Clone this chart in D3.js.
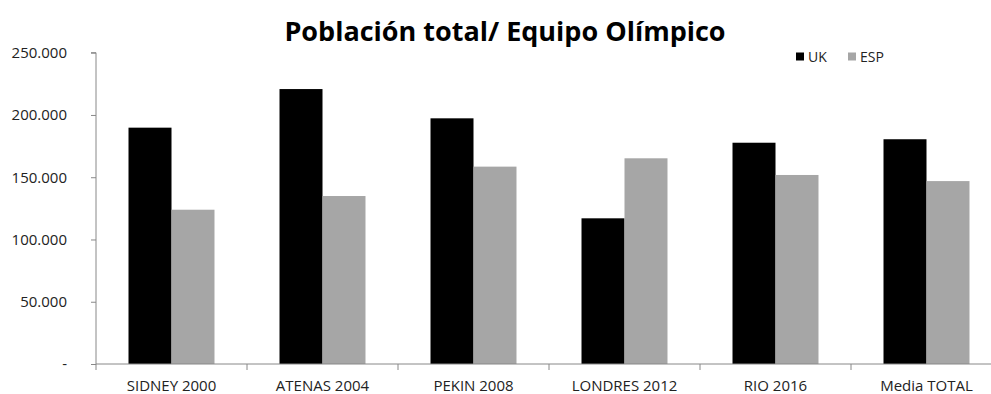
<!DOCTYPE html>
<html>
<head>
<meta charset="utf-8">
<script src="https://cdn.jsdelivr.net/npm/d3@7"></script>
<style>
  body { margin: 0; background: #fff; }
  text { font-family: "Open Sans", "Liberation Sans", sans-serif; fill: #222; }
</style>
</head>
<body>
<div id="chart"></div>
<script>
// ── data
const categories = ['SIDNEY 2000', 'ATENAS 2004', 'PEKIN 2008', 'LONDRES 2012', 'RIO 2016', 'Media TOTAL'];
const seriesNames = ['UK', 'ESP'];
const ukValues  = [189800, 220800, 197300, 117000, 177700, 180500];
const espValues = [123900, 134900, 158500, 165200, 151800, 146900];
const yTicks = [0, 50000, 100000, 150000, 200000, 250000];
const colors = { UK: '#000000', ESP: '#a6a6a6' };

const W = 991, H = 394;
const margin = { left: 96, top: 52.7, bottom: 30 };
const step = 151;

const svg = d3.select('#chart').append('svg')
  .attr('width', W).attr('height', H);

// ── scales
const x0 = d3.scaleBand()
  .domain(categories)
  .range([margin.left, margin.left + step * categories.length])
  .padding(0);

const x1 = d3.scaleBand()
  .domain(seriesNames)
  .range([0, x0.bandwidth()])
  .paddingInner(0)
  .paddingOuter(0.756);

const y = d3.scaleLinear().domain([0, 250000]).range([364, margin.top]);

const fmt = v => v === 0 ? '-' : d3.format(',')(v).replace(/,/g, '.');

// ── title
svg.append('text')
  .attr('x', 505).attr('y', 41)
  .attr('text-anchor', 'middle')
  .style('font-size', '27px').style('font-weight', 'bold').style('fill', '#000')
  .text('Población total/ Equipo Olímpico');

// ── bars
const rows = categories.map((c, i) => ({ cat: c, UK: ukValues[i], ESP: espValues[i] }));

svg.append('g').selectAll('g')
  .data(rows)
  .join('g')
    .attr('transform', d => `translate(${x0(d.cat)},0)`)
  .selectAll('rect')
  .data(d => seriesNames.map(s => ({ s, v: d[s] })))
  .join('rect')
    .attr('x', d => x1(d.s))
    .attr('width', x1.bandwidth())
    .attr('y', d => y(d.v))
    .attr('height', d => y(0) - y(d.v))
    .attr('fill', d => colors[d.s]);

// ── y axis
svg.append('g')
  .attr('transform', `translate(${margin.left},0)`)
  .call(d3.axisLeft(y).tickValues(yTicks).tickFormat(fmt).tickSize(5).tickPadding(24))
  .call(g => g.select('.domain').attr('stroke', '#888').attr('d', `M-5,${y(250000)}H0V${y(0)}`))
  .call(g => g.selectAll('.tick line').attr('stroke', '#888'))
  .call(g => g.selectAll('.tick text').style('font-size', '15px').style('font-family', '"Open Sans", sans-serif').attr('fill', '#222'));

// ── x axis
const xAxisG = svg.append('g')
  .attr('transform', `translate(0,${y(0)})`);

xAxisG.append('line')
  .attr('x1', margin.left).attr('x2', W)
  .attr('stroke', '#888');

xAxisG.selectAll('.xtick')
  .data(categories)
  .join('line')
    .attr('class', 'xtick')
    .attr('x1', d => x0(d)).attr('x2', d => x0(d))
    .attr('y1', 0).attr('y2', 6)
    .attr('stroke', '#888');

xAxisG.selectAll('.xlabel')
  .data(categories)
  .join('text')
    .attr('class', 'xlabel')
    .attr('x', d => x0(d) + x0.bandwidth() / 2)
    .attr('y', 27)
    .attr('text-anchor', 'middle')
    .style('font-size', '15px')
    .text(d => d);

// ── legend
const legend = svg.append('g');
const legendX = [796, 848];
seriesNames.forEach((s, i) => {
  legend.append('rect')
    .attr('x', legendX[i]).attr('y', 52.5)
    .attr('width', 8).attr('height', 8)
    .attr('fill', colors[s]);
  legend.append('text')
    .attr('x', legendX[i] + 12).attr('y', 62)
    .style('font-size', '14px')
    .text(s);
});
</script>
</body>
</html>
